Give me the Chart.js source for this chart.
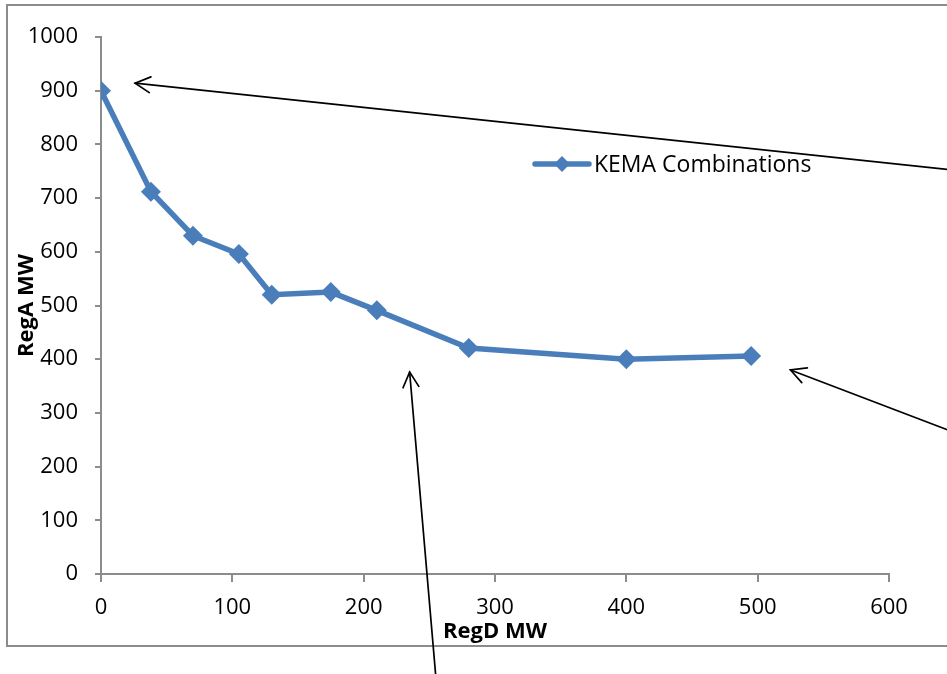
<!DOCTYPE html>
<html>
<head>
<meta charset="utf-8">
<script src="https://cdn.jsdelivr.net/npm/chart.js@4.4.1/dist/chart.umd.min.js"></script>
<style>
  html, body { margin: 0; padding: 0; background: #fff; overflow: hidden; }
  #wrap { position: relative; width: 947px; height: 674px; }
  #frame { position: absolute; left: 6px; top: 4px; width: 1000px; height: 643px; border: 2px solid #8c8c8c; box-sizing: border-box; }
  canvas { position: absolute; left: 0; top: 0; }
</style>
</head>
<body>
<div id="wrap">
  <div id="frame"></div>
  <canvas id="grafico" width="947" height="674"></canvas>
</div>
<script>
// valores
const regD = [0, 38, 70, 105, 130, 175, 210, 280, 400, 495];
const regA = [900, 712, 630, 596, 520, 525, 491, 421, 400, 406];
const nomeSerie = "KEMA Combinations";
const xTicks = [0, 100, 200, 300, 400, 500, 600];
const yTicks = [0, 100, 200, 300, 400, 500, 600, 700, 800, 900, 1000];

// setas (valores nos eixos: cauda -> ponta)
const setaCauda = [[700, 739], [700, 217], [257, -250]];
const setaPonta = [[26, 914], [525, 380], [235, 376]];

const azul = "#4a7ebb";
const cinza = "#8c8c8c";
const fonte = "'Open Sans', sans-serif";

const pluginSetas = {
  id: "setas",
  afterDatasetsDraw(chart) {
    const { ctx, scales: { x, y } } = chart;
    ctx.save();
    ctx.strokeStyle = "#000";
    ctx.lineWidth = 1.7;
    ctx.lineCap = "round";
    for (let i = 0; i < setaPonta.length; i++) {
      const x0 = x.getPixelForValue(setaCauda[i][0]), y0 = y.getPixelForValue(setaCauda[i][1]);
      const x1 = x.getPixelForValue(setaPonta[i][0]), y1 = y.getPixelForValue(setaPonta[i][1]);
      const ang = Math.atan2(y1 - y0, x1 - x0);
      ctx.beginPath();
      ctx.moveTo(x0, y0);
      ctx.lineTo(x1, y1);
      ctx.stroke();
      ctx.beginPath();
      const len = 17, abre = Math.PI / 6.5;
      ctx.moveTo(x1 - len * Math.cos(ang - abre), y1 - len * Math.sin(ang - abre));
      ctx.lineTo(x1, y1);
      ctx.lineTo(x1 - len * Math.cos(ang + abre), y1 - len * Math.sin(ang + abre));
      ctx.stroke();
    }
    ctx.restore();
  }
};

const pluginLegenda = {
  id: "legendaInterna",
  afterDraw(chart) {
    const { ctx } = chart;
    const lx = 535, ly = 164;
    ctx.save();
    ctx.strokeStyle = azul;
    ctx.lineWidth = 5.5;
    ctx.lineCap = "round";
    ctx.beginPath();
    ctx.moveTo(lx, ly);
    ctx.lineTo(lx + 54, ly);
    ctx.stroke();
    ctx.fillStyle = azul;
    ctx.beginPath();
    ctx.moveTo(lx + 27, ly - 8);
    ctx.lineTo(lx + 35, ly);
    ctx.lineTo(lx + 27, ly + 8);
    ctx.lineTo(lx + 19, ly);
    ctx.closePath();
    ctx.fill();
    ctx.fillStyle = "#000";
    ctx.font = "23px " + fonte;
    ctx.textBaseline = "middle";
    ctx.fillText(nomeSerie, lx + 59, ly + 1);
    ctx.restore();
  }
};

new Chart(document.getElementById("grafico"), {
  type: "line",
  data: {
    datasets: [{
      label: nomeSerie,
      data: regD.map((v, i) => ({ x: v, y: regA[i] })),
      borderColor: azul,
      backgroundColor: azul,
      borderWidth: 5.5,
      pointStyle: "rectRot",
      pointRadius: 10,
      pointBorderWidth: 0,
      tension: 0
    }]
  },
  options: {
    responsive: false,
    animation: false,
    layout: { padding: { left: 12, top: 37, right: 58, bottom: 27 } },
    plugins: { legend: { display: false }, tooltip: { enabled: false } },
    scales: {
      x: {
        type: "linear",
        min: 0, max: 600,
        afterBuildTicks: s => { s.ticks = xTicks.map(v => ({ value: v })); },
        afterFit: s => { s.height = 73; },
        grid: { drawOnChartArea: false, drawTicks: true, tickLength: 8, color: cinza, lineWidth: 2 },
        border: { color: cinza, width: 2 },
        ticks: { color: "#000", font: { family: fonte, size: 22 }, padding: 13, callback: v => String(v) },
        title: { display: true, text: "RegD MW", color: "#000", font: { family: fonte, size: 22, weight: "bold" }, padding: { top: 0, bottom: 2 } }
      },
      y: {
        min: 0, max: 1000,
        afterBuildTicks: s => { s.ticks = yTicks.map(v => ({ value: v })); },
        afterFit: s => { s.width = 89; },
        grid: { drawOnChartArea: false, drawTicks: true, tickLength: 6, color: cinza, lineWidth: 2 },
        border: { color: cinza, width: 2 },
        ticks: { color: "#000", font: { family: fonte, size: 22 }, padding: 17, callback: v => String(v) },
        title: { display: true, text: "RegA MW", color: "#000", font: { family: fonte, size: 22, weight: "bold" }, padding: { top: 2, bottom: 0 } }
      }
    }
  },
  plugins: [pluginSetas, pluginLegenda]
});
</script>
</body>
</html>
